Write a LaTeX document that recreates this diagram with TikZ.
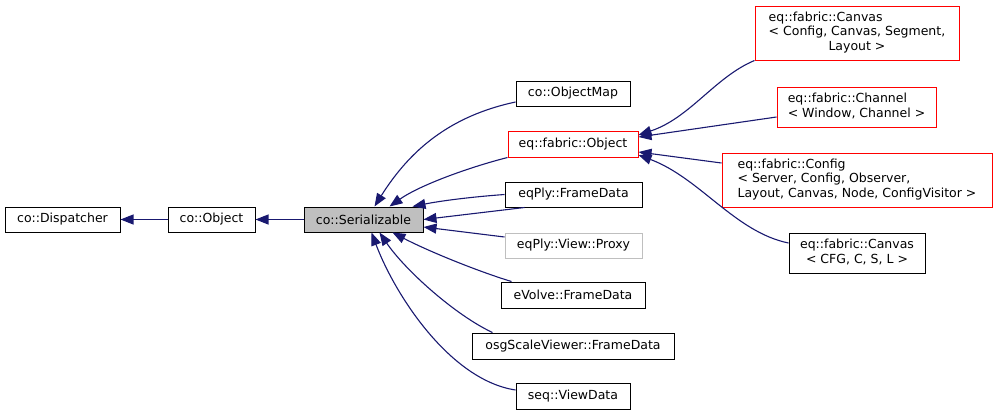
\documentclass[tikz,border=0pt]{standalone}
\usepackage{fontspec}
\setmainfont{DejaVu Sans}
\usetikzlibrary{arrows.meta}
\definecolor{edgeblue}{HTML}{191970}
\definecolor{boxgray}{HTML}{BFBFBF}
\tikzset{
  cls/.style={draw=black, line width=1pt, rectangle, inner sep=0pt, align=center, text=black,
    font=\fontsize{12.5}{14.8}\selectfont},
  redcls/.style={cls, draw=red},
  ghost/.style={cls, draw=boxgray},
  cur/.style={cls, fill=boxgray},
  inh/.style={draw=edgeblue, line width=1.1pt, -{Triangle[length=13pt,width=10pt]}, color=edgeblue},
}
\begin{document}
\begin{tikzpicture}[x=1pt,y=-1pt]
\useasboundingbox (0,0) rectangle (997,416);
% left chain
\node[cls, minimum width=115pt, minimum height=25pt] (disp) at (62.5,219.5) {co::Dispatcher};
\node[cls, minimum width=87pt, minimum height=25pt] (obj) at (211.5,219.5) {co::Object};
\node[cur, minimum width=119pt, minimum height=25pt] (ser) at (363.5,219.5) {co::Serializable};
% middle column
\node[cls, minimum width=114pt, minimum height=25pt] (omap) at (573,93.5) {co::ObjectMap};
\node[redcls, minimum width=130pt, minimum height=26pt] (fobj) at (573,144) {eq::fabric::Object};
\node[cls, minimum width=137pt, minimum height=25pt] (plyfd) at (573.5,194.5) {eqPly::FrameData};
\node[ghost, minimum width=137pt, minimum height=25pt] (proxy) at (573.5,245.5) {eqPly::View::Proxy};
\node[cls, minimum width=144pt, minimum height=26pt] (evfd) at (573,295) {eVolve::FrameData};
\node[cls, minimum width=202pt, minimum height=26pt] (osgfd) at (573,346) {osgScaleViewer::FrameData};
\node[cls, minimum width=114pt, minimum height=26pt] (seqvd) at (573,396.5) {seq::ViewData};
% right column
\node[redcls, minimum width=204pt, minimum height=54pt] (canvasA) at (857,33)
  {\begin{tabular}{@{}l@{}}eq::fabric::Canvas\\\textless{} Config, Canvas, Segment,\\\multicolumn{1}{@{}c@{}}{Layout \textgreater}\end{tabular}};
\node[redcls, minimum width=159pt, minimum height=40pt] (chan) at (856.5,107)
  {\begin{tabular}{@{}l@{}}eq::fabric::Channel\\\textless{} Window, Channel \textgreater\end{tabular}};
\node[redcls, minimum width=270pt, minimum height=54pt] (conf) at (857,180)
  {\begin{tabular}{@{}l@{}}eq::fabric::Config\\\textless{} Server, Config, Observer,\\\multicolumn{1}{@{}c@{}}{ Layout, Canvas, Node, ConfigVisitor \textgreater}\end{tabular}};
\node[cls, minimum width=136pt, minimum height=40pt] (canvasB) at (857,253)
  {\begin{tabular}{@{}c@{}}eq::fabric::Canvas\\\textless{} CFG, C, S, L \textgreater\end{tabular}};
% edges left chain
\draw[inh] (obj.west) -- (disp.east);
\draw[inh] (ser.west) -- (obj.east);
% edges to Serializable
\draw[inh] ([yshift=-8.5pt]omap.west) .. controls (450,116) and (410,150) .. ([xshift=71pt]ser.north west);
\draw[inh] (fobj.south west) .. controls (470,167) and (420,185) .. ([xshift=86pt]ser.north west);
\draw[inh] (plyfd.west) .. controls (470,197) and (440,201) .. ([xshift=109pt]ser.north west);
\draw[inh] ([xshift=20pt]plyfd.south west) -- (ser.east);
\draw[inh] ([yshift=8.5pt]proxy.west) -- ([yshift=-7.5pt]ser.east);
\draw[inh] ([xshift=11pt]evfd.north west) .. controls (480,272) and (430,252) .. ([xshift=89pt]ser.south west);
\draw[inh] ([xshift=21pt]osgfd.north west) .. controls (455,315) and (405,270) .. ([xshift=76pt]ser.south west);
\draw[inh] ([yshift=6.5pt]seqvd.west) .. controls (450,380) and (395,295) .. ([xshift=68pt]ser.south west);
% edges to eq::fabric::Object
\draw[inh] (canvasA.south west) .. controls (715,77) and (690,118) .. ([yshift=9pt]fobj.east);
\draw[inh] ([yshift=-10pt]chan.west) -- ([yshift=7pt]fobj.east);
\draw[inh] ([yshift=17pt]conf.west) -- ([yshift=-8pt]fobj.east);
\draw[inh] ([yshift=10pt]canvasB.west) .. controls (735,232) and (700,178) .. ([yshift=-11pt]fobj.east);
\end{tikzpicture}
\end{document}
